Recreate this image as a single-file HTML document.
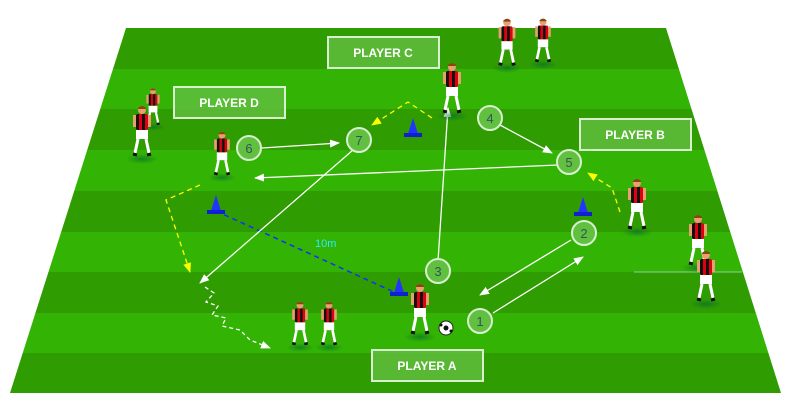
<!DOCTYPE html>
<html><head><style>html,body{margin:0;padding:0;background:#fff}svg{display:block}</style></head><body>
<svg width="788" height="415" viewBox="0 0 788 415" xmlns="http://www.w3.org/2000/svg" font-family="Liberation Sans, Arial, sans-serif">
<defs>
<clipPath id="f"><polygon points="126,28 666,28 781,393 10,393"/></clipPath>
<radialGradient id="sh"><stop offset="0" stop-color="#063" stop-opacity="0.6"/><stop offset="1" stop-color="#063" stop-opacity="0"/></radialGradient>
<pattern id="stripes" width="6" height="20" patternUnits="userSpaceOnUse"><rect width="3" height="20" fill="#e00010"/><rect x="3" width="3" height="20" fill="#111"/></pattern>
<symbol id="p" viewBox="0 0 30 56" overflow="visible">
<ellipse cx="15" cy="54" rx="16" ry="5" fill="url(#sh)"/>
<circle cx="15" cy="5" r="4" fill="#e8a070"/><path d="M11,3 Q15,-1 19,3 L19,4 L11,4Z" fill="#8b4513"/>
<rect x="9" y="9" width="12" height="16" rx="2" fill="url(#stripes)"/>
<rect x="6" y="10" width="3" height="12" fill="#e8a070"/><rect x="21" y="10" width="3" height="12" fill="#e8a070"/>
<rect x="9" y="25" width="12" height="9" fill="#fff"/>
<path d="M11,34 L8,48 M19,34 L22,48" stroke="#fff" stroke-width="3"/>
<path d="M6,49 L10,50 M20,50 L24,49" stroke="#111" stroke-width="3"/>
</symbol>
<marker id="a" markerWidth="10" markerHeight="8" refX="9" refY="4" orient="auto" markerUnits="userSpaceOnUse"><path d="M0,0 L10,4 L0,8 Z" fill="#fff"/></marker>
<marker id="ay" markerWidth="10" markerHeight="8" refX="9" refY="4" orient="auto" markerUnits="userSpaceOnUse"><path d="M0,0 L10,4 L0,8 Z" fill="#ff0"/></marker>
<symbol id="c" viewBox="0 0 20 20" overflow="visible"><path d="M10,0 L15,16 L5,16Z" fill="#2233ff"/><rect x="1" y="15" width="18" height="4" fill="#1020d0"/></symbol>
</defs>
<g clip-path="url(#f)">
<rect x="0" y="28" width="788" height="41" fill="#2f9c02"/>
<rect x="0" y="69" width="788" height="40" fill="#33b303"/>
<rect x="0" y="109" width="788" height="41" fill="#2f9c02"/>
<rect x="0" y="150" width="788" height="41" fill="#33b303"/>
<rect x="0" y="191" width="788" height="41" fill="#2f9c02"/>
<rect x="0" y="232" width="788" height="40" fill="#33b303"/>
<rect x="0" y="272" width="788" height="41" fill="#2f9c02"/>
<rect x="0" y="313" width="788" height="40" fill="#33b303"/>
<rect x="0" y="353" width="788" height="40" fill="#2f9c02"/>
</g>
<line x1="634" y1="272" x2="742" y2="272" stroke="#9c9" stroke-width="1"/>
<g fill="#5fbd3d" fill-opacity="0.85" stroke="#d8f0d0" stroke-width="2">
<rect x="328" y="37" width="111" height="31"/>
<rect x="174" y="87" width="111" height="31"/>
<rect x="580" y="119" width="111" height="31"/>
<rect x="372" y="350" width="111" height="31"/>
</g>
<g fill="#fff" font-weight="bold" font-size="12" text-anchor="middle">
<text x="383" y="57">PLAYER C</text><text x="229" y="107">PLAYER D</text>
<text x="635" y="139">PLAYER B</text><text x="427" y="370">PLAYER A</text>
</g>
<line x1="216" y1="211" x2="396" y2="293" stroke="#1030ff" stroke-width="1.5" stroke-dasharray="5,4"/>
<text x="315" y="247" fill="#33e6ff" font-size="11">10m</text>
<g stroke="#fff" stroke-width="1.3" fill="none" marker-end="url(#a)">
<line x1="262" y1="148" x2="339" y2="143"/>
<line x1="353" y1="150" x2="200" y2="283"/>
<line x1="438" y1="261" x2="448" y2="108"/>
<line x1="500" y1="125" x2="552" y2="153"/>
<line x1="558" y1="165" x2="255" y2="178"/>
<line x1="571" y1="240" x2="480" y2="295"/>
<line x1="493" y1="313" x2="583" y2="257"/>
<path d="M205,287 L214,293 L206,302 L218,306 L212,315 L226,318 L222,326 L240,330 L250,340 L270,348" stroke-dasharray="4,3"/>
</g>
<g stroke="#ff0" stroke-width="1.3" fill="none" stroke-dasharray="5,4" marker-end="url(#ay)">
<path d="M200,185 L166,200 L190,272"/>
<path d="M432,118 L408,102 L372,125"/>
<path d="M620,212 L612,188 L588,173"/>
</g>
<g fill="#62c040" stroke="#d8f0d0" stroke-width="2">
<circle cx="480" cy="321" r="12"/><circle cx="584" cy="233" r="12"/><circle cx="438" cy="271" r="12"/>
<circle cx="490" cy="118" r="12"/><circle cx="569" cy="162" r="12"/><circle cx="249" cy="148" r="12"/><circle cx="359" cy="140" r="12"/>
</g>
<g fill="#355" font-size="13" text-anchor="middle">
<text x="480" y="326">1</text><text x="584" y="238">2</text><text x="438" y="276">3</text>
<text x="490" y="123">4</text><text x="569" y="167">5</text><text x="249" y="153">6</text><text x="359" y="145">7</text>
</g>
<use href="#c" x="206" y="195" width="20" height="20"/>
<use href="#c" x="389" y="277" width="20" height="20"/>
<use href="#c" x="403" y="118" width="20" height="20"/>
<use href="#c" x="573" y="197" width="20" height="20"/>
<use href="#p" x="142" y="80" width="22" height="56"/>
<use href="#p" x="127" y="105" width="30" height="56"/>
<use href="#p" x="209" y="127" width="26" height="56"/>
<use href="#p" x="437" y="62" width="30" height="56"/>
<use href="#p" x="493" y="16" width="28" height="56"/>
<use href="#p" x="530" y="14" width="26" height="56"/>
<use href="#p" x="622" y="178" width="30" height="56"/>
<use href="#p" x="683" y="214" width="30" height="56"/>
<use href="#p" x="691" y="250" width="30" height="56"/>
<use href="#p" x="287" y="297" width="26" height="56"/>
<use href="#p" x="316" y="297" width="26" height="56"/>
<use href="#p" x="405" y="283" width="30" height="56"/>
<circle cx="446" cy="328" r="7" fill="#fff" stroke="#222" stroke-width="1"/>
<circle cx="446" cy="328" r="2.5" fill="#111"/><circle cx="441" cy="325" r="1.5" fill="#111"/><circle cx="451" cy="331" r="1.5" fill="#111"/>
</svg>
</body></html>
